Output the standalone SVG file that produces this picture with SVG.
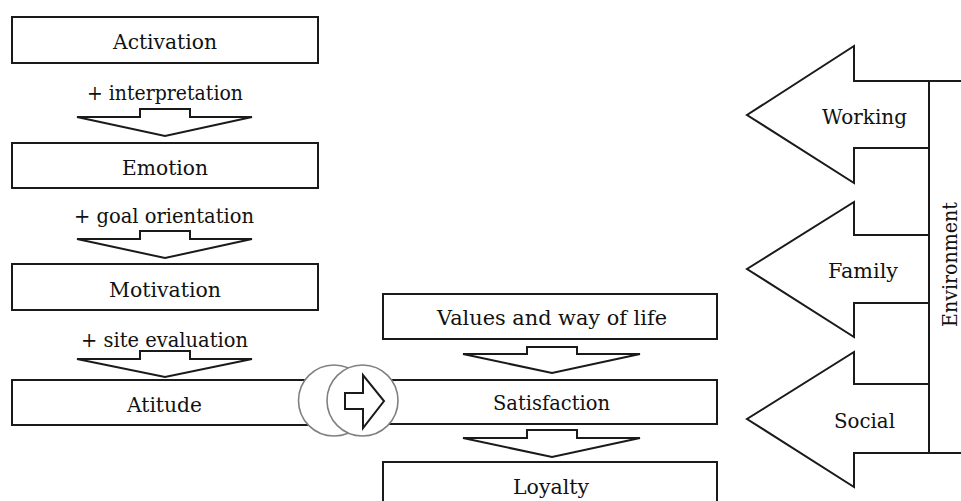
<svg xmlns="http://www.w3.org/2000/svg" width="961" height="501" viewBox="0 0 961 501">
<style>
.box{fill:#fff;stroke:#1a1a1a;stroke-width:2}
.arr{fill:#fff;stroke:#1a1a1a;stroke-width:2;stroke-linejoin:miter}
.c{fill:#fff;stroke:#808080;stroke-width:1.6}
.t{font-family:'DejaVu Serif','Liberation Serif',serif;font-size:21px;fill:#111;text-anchor:middle}
</style>
<rect width="961" height="501" fill="#fff"/>
<g id="connectors">
<polygon class="arr" points="140,109 190,109 190,117 252,117 165,136 77,117 140,117"/>
<text class="t" x="165" y="100" textLength="156" lengthAdjust="spacingAndGlyphs">+ interpretation</text>
<polygon class="arr" points="140,231 190,231 190,239 252,239 165,258 77,239 140,239"/>
<text class="t" x="164" y="223" textLength="180" lengthAdjust="spacingAndGlyphs">+ goal orientation</text>
<polygon class="arr" points="140,351 190,351 190,359 252,359 165,377 77,359 140,359"/>
<text class="t" x="164.5" y="347" textLength="167" lengthAdjust="spacingAndGlyphs">+ site evaluation</text>
<polygon class="arr" points="527,347 577,347 577,354 640,354 552,373 463,354 527,354"/>
<polygon class="arr" points="527,430 577,430 577,438 640,438 552,457 463,438 527,438"/>
</g>
<g id="activation"><rect class="box" x="12" y="17" width="306" height="46"/><text class="t" x="165" y="49" textLength="104" lengthAdjust="spacingAndGlyphs">Activation</text></g>
<g id="emotion"><rect class="box" x="12" y="143" width="306" height="45"/><text class="t" x="165" y="175" textLength="86" lengthAdjust="spacingAndGlyphs">Emotion</text></g>
<g id="motivation"><rect class="box" x="12" y="264" width="306" height="46"/><text class="t" x="165" y="297" textLength="112" lengthAdjust="spacingAndGlyphs">Motivation</text></g>
<g id="atitude"><rect class="box" x="12" y="380" width="318" height="45"/><text class="t" x="164.5" y="412" textLength="75" lengthAdjust="spacingAndGlyphs">Atitude</text></g>
<g id="values"><rect class="box" x="383" y="294" width="334" height="45"/><text class="t" x="552" y="325" textLength="230" lengthAdjust="spacingAndGlyphs">Values and way of life</text></g>
<g id="satisfaction"><rect class="box" x="360" y="380" width="357" height="44"/><text class="t" x="551.5" y="410" textLength="117" lengthAdjust="spacingAndGlyphs">Satisfaction</text></g>
<g id="loyalty"><rect class="box" x="383" y="462" width="334" height="45"/><text class="t" x="551" y="494" textLength="76" lengthAdjust="spacingAndGlyphs">Loyalty</text></g>
<g id="transfer">
<circle class="c" cx="334" cy="400.5" r="35.5"/>
<circle class="c" cx="362.5" cy="400.5" r="35.5"/>
<polygon class="arr" points="345,393 363,393 363,375 384,401 363,428 363,409 345,409"/>
</g>
<g id="environment">
<rect class="box" x="929" y="81" width="40" height="372"/>
<text class="t" x="957" y="264.5" transform="rotate(-90 957 264.5)" textLength="125" lengthAdjust="spacingAndGlyphs">Environment</text>
</g>
<g id="working">
<polygon class="arr" points="929,81 854,81 854,46 747,115 854,183 854,148 929,148"/>
<text class="t" x="864.5" y="124" textLength="85" lengthAdjust="spacingAndGlyphs">Working</text>
</g>
<g id="family">
<polygon class="arr" points="929,235 854,235 854,202 747,269 854,337 854,303 929,303"/>
<text class="t" x="863" y="278" textLength="70" lengthAdjust="spacingAndGlyphs">Family</text>
</g>
<g id="social">
<polygon class="arr" points="929,384 854,384 854,352 747,419 854,487 854,453 929,453"/>
<text class="t" x="864.5" y="428" textLength="61" lengthAdjust="spacingAndGlyphs">Social</text>
</g>
</svg>
